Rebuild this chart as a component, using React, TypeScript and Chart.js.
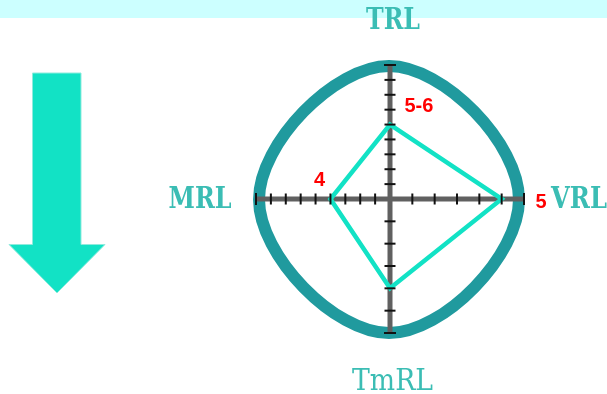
import { useEffect, useRef } from 'react';
import { Chart, registerables } from 'chart.js';

Chart.register(...registerables);

// ---- data ----
const categories = ['TRL', 'VRL', 'TmRL', 'MRL'];
const values = [5, 5, 4, 4];
const axisMax = [9, 6, 6, 9];
const valueLabels = ['5-6', '5', '', '4'];

export default function App() {
  const ref = useRef<HTMLCanvasElement>(null);

  useEffect(() => {
    const canvas = ref.current;
    if (!canvas) return;

    const deco = {
      id: 'deco',
      beforeDatasetsDraw(chart: any) {
        const ctx: CanvasRenderingContext2D = chart.ctx;
        const r = chart.scales.r;
        const cx = r.xCenter;
        const cy = r.yCenter;
        const R = r.drawingArea;
        ctx.save();
        // top band
        ctx.fillStyle = '#ccffff';
        ctx.fillRect(0, 0, chart.width, 18);
        // down arrow
        ctx.beginPath();
        ctx.moveTo(32.5, 73);
        ctx.lineTo(81, 73);
        ctx.lineTo(81, 244.5);
        ctx.lineTo(105, 244.5);
        ctx.lineTo(57, 293);
        ctx.lineTo(9, 244.5);
        ctx.lineTo(32.5, 244.5);
        ctx.closePath();
        ctx.fillStyle = '#12e2c5';
        ctx.fill();
        ctx.strokeStyle = '#8febdd';
        ctx.lineWidth = 1;
        ctx.stroke();
        // rounded outline (four bezier arcs)
        const a = R * 0.97;
        const b = R * 0.997;
        const sx = cx - 1;
        const sy = cy + 0.5;
        const k = 0.42;
        ctx.beginPath();
        ctx.moveTo(sx, sy - b);
        ctx.bezierCurveTo(sx + a * k, sy - b, sx + a, sy - b * k, sx + a, sy);
        ctx.bezierCurveTo(sx + a, sy + b * k, sx + a * k, sy + b, sx, sy + b);
        ctx.bezierCurveTo(sx - a * k, sy + b, sx - a, sy + b * k, sx - a, sy);
        ctx.bezierCurveTo(sx - a, sy - b * k, sx - a * k, sy - b, sx, sy - b);
        ctx.closePath();
        ctx.strokeStyle = '#209a9e';
        ctx.lineWidth = 12;
        ctx.lineJoin = 'round';
        ctx.stroke();
        // axes
        ctx.strokeStyle = '#606060';
        ctx.lineWidth = 5;
        ctx.lineCap = 'butt';
        categories.forEach((_, i) => {
          const p = r.getPointPositionForValue(i, 1);
          ctx.beginPath();
          ctx.moveTo(cx, cy);
          ctx.lineTo(p.x, p.y);
          ctx.stroke();
        });
        ctx.restore();
      },
      afterDatasetsDraw(chart: any) {
        const ctx: CanvasRenderingContext2D = chart.ctx;
        const r = chart.scales.r;
        ctx.save();
        // tick marks
        ctx.strokeStyle = '#111111';
        ctx.lineWidth = 2;
        categories.forEach((_, i) => {
          const ang = r.getIndexAngle(i) - Math.PI / 2;
          const px = -Math.sin(ang);
          const py = Math.cos(ang);
          for (let j = 1; j <= axisMax[i]; j++) {
            const p = r.getPointPositionForValue(i, j / axisMax[i]);
            const h = j === axisMax[i] ? 6 : 5.5;
            ctx.beginPath();
            ctx.moveTo(p.x - px * h, p.y - py * h);
            ctx.lineTo(p.x + px * h, p.y + py * h);
            ctx.stroke();
          }
        });
        // category labels
        ctx.fillStyle = '#3bbdb4';
        ctx.textBaseline = 'alphabetic';
        const serifBold = 'bold 29px "DejaVu Serif", "Liberation Serif", serif';
        const serifReg = '29px "DejaVu Serif", "Liberation Serif", serif';
        ctx.font = serifBold;
        ctx.textAlign = 'center';
        ctx.fillText(categories[0], 393, 29, 54);
        ctx.textAlign = 'left';
        ctx.fillText(categories[1], 551, 208, 56);
        ctx.fillText(categories[3], 168.5, 207.5, 63);
        ctx.font = serifReg;
        ctx.fillText(categories[2], 352, 390, 81);
        // value labels
        ctx.fillStyle = '#ff0000';
        ctx.font = 'bold 20px "Liberation Sans", Arial, sans-serif';
        ctx.textAlign = 'left';
        ctx.fillText(valueLabels[0], 404.5, 111.5);
        ctx.fillText(valueLabels[1], 535.5, 207.5);
        ctx.textAlign = 'center';
        ctx.fillText(valueLabels[3], 319.5, 186);
        ctx.restore();
      },
    };

    const chart = new Chart(canvas, {
      type: 'radar',
      data: {
        labels: categories,
        datasets: [
          {
            data: values.map((v, i) => v / axisMax[i]),
            borderColor: '#12e2c5',
            borderWidth: 4.5,
            borderJoinStyle: 'miter',
            backgroundColor: 'rgba(0,0,0,0)',
            fill: false,
            pointRadius: 0,
            pointHoverRadius: 0,
            tension: 0,
          },
        ],
      },
      options: {
        responsive: false,
        animation: false,
        devicePixelRatio: 1,
        events: [],
        layout: { padding: { left: 256.5, right: 82.5, top: 65.5, bottom: 60.5 } },
        plugins: { legend: { display: false }, tooltip: { enabled: false } },
        scales: {
          r: { display: false, min: 0, max: 1 },
        },
      },
      plugins: [deco],
    } as any);

    return () => chart.destroy();
  }, []);

  return (
    <div style={{ position: 'absolute', left: 0, top: 0, width: 607, height: 394 }}>
      <canvas ref={ref} width={607} height={394} style={{ display: 'block' }} />
    </div>
  );
}
